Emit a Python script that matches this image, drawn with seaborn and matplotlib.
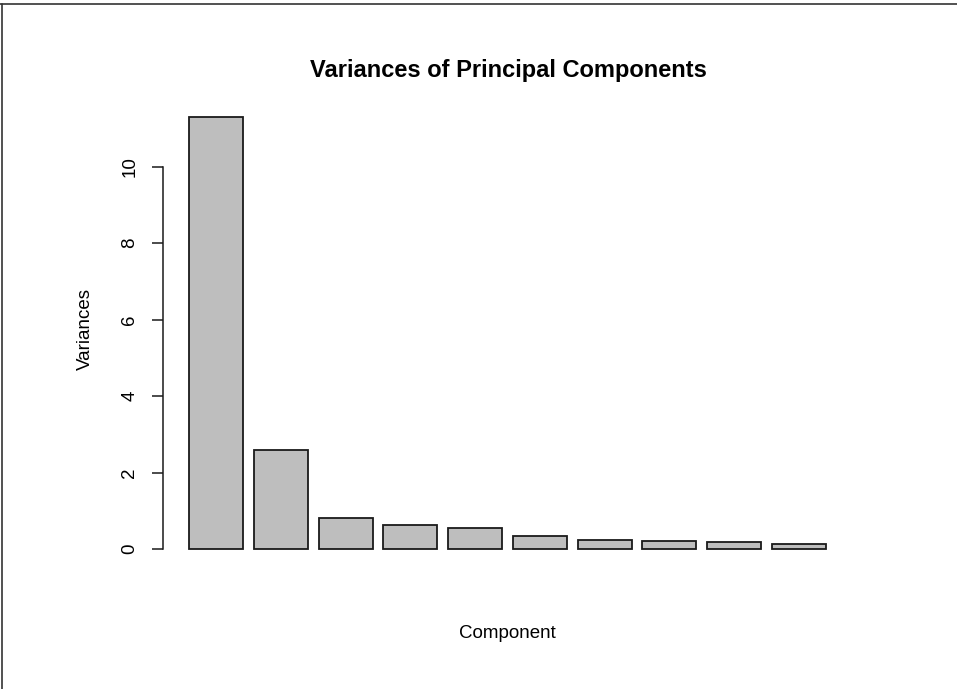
import numpy as np
import pandas as pd
import matplotlib
matplotlib.use("Agg")
import matplotlib.pyplot as plt
from matplotlib.lines import Line2D
import seaborn as sns

# Data
components = ["PC1", "PC2", "PC3", "PC4", "PC5", "PC6", "PC7", "PC8", "PC9", "PC10"]
variances = [11.31, 2.60, 0.81, 0.62, 0.55, 0.35, 0.24, 0.22, 0.19, 0.13]
y_ticks = [0, 2, 4, 6, 8, 10]

df = pd.DataFrame({"Component": components, "Variances": variances})

sns.set_style("white")
plt.rcParams['font.family'] = ['Liberation Sans', 'DejaVu Sans']
plt.rcParams['text.color'] = 'black'
plt.rcParams['ytick.color'] = 'black'
plt.rcParams['ytick.labelcolor'] = 'black'

fig = plt.figure(figsize=(9.57, 6.89), dpi=100)
ax = fig.add_axes([0.1708, 0.1778, 0.719, 0.678])

sns.barplot(data=df, x="Component", y="Variances", color="#bebebe",
            edgecolor="#1a1a1a", linewidth=1.3, width=1 / 1.2,
            saturation=1, ax=ax)

ax.set_xlim(-0.8167, 9.8167)
ax.set_ylim(-0.04 * max(variances), 1.04 * max(variances))

for side in ["top", "right", "bottom"]:
    ax.spines[side].set_visible(False)
ax.spines["left"].set_bounds(0, 10)
ax.spines["left"].set_color("#1a1a1a")
ax.spines["left"].set_linewidth(1.1)

ax.set_xticks([])
ax.set_yticks(y_ticks)
ax.set_yticklabels([str(t) for t in y_ticks], rotation=90, va="center",
                   fontsize=13.5, color="black")
ax.tick_params(axis="y", length=8, width=1.1, color="#1a1a1a", pad=10,
               left=True)
ax.set_xlabel("")
ax.set_ylabel("")

fig.text(0.531, 0.898, "Variances of Principal Components", ha="center",
         va="center", fontsize=17, fontweight="bold", color="black")
fig.text(0.530, 0.080, "Component", ha="center", va="center", fontsize=13.5,
         color="black")
fig.text(0.089, 0.523, "Variances", ha="center", va="center", rotation=90,
         fontsize=13.5, color="black")

# screenshot frame on the top and left edges
fig.add_artist(Line2D([0, 1], [1 - 4 / 689, 1 - 4 / 689], color="#333333",
                      linewidth=1.2, transform=fig.transFigure))
fig.add_artist(Line2D([2 / 957, 2 / 957], [0, 1 - 4 / 689], color="#333333",
                      linewidth=1.2, transform=fig.transFigure))

fig.savefig("out.png", dpi=100)
